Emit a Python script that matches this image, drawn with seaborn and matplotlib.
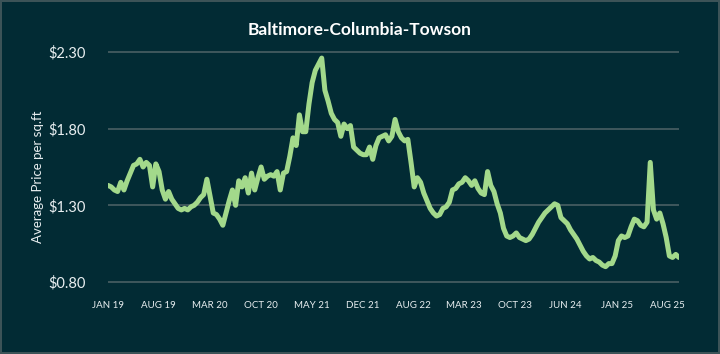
import pandas as pd
import numpy as np
import matplotlib
matplotlib.use("Agg")
import matplotlib.pyplot as plt
import seaborn as sns

# price per sq.ft (roughly evenly spaced in time)
price = [
    1.43, 1.42, 1.40, 1.39, 1.45, 1.40, 1.46, 1.51, 1.56, 1.57,
    1.60, 1.55, 1.58, 1.56, 1.42, 1.57, 1.52, 1.40, 1.34, 1.39,
    1.34, 1.31, 1.28, 1.27, 1.28, 1.27, 1.29, 1.30, 1.32, 1.35,
    1.37, 1.47, 1.36, 1.25, 1.24, 1.21, 1.17, 1.25, 1.33, 1.40,
    1.30, 1.46, 1.42, 1.48, 1.38, 1.51, 1.40, 1.48, 1.55, 1.47,
    1.49, 1.50, 1.49, 1.52, 1.40, 1.51, 1.52, 1.62, 1.74, 1.69,
    1.89, 1.78, 1.78, 1.96, 2.10, 2.18, 2.22, 2.26, 2.05, 1.98,
    1.90, 1.86, 1.84, 1.75, 1.83, 1.80, 1.82, 1.68, 1.66, 1.64,
    1.63, 1.63, 1.68, 1.60, 1.69, 1.74, 1.75, 1.76, 1.72, 1.75,
    1.86, 1.78, 1.74, 1.72, 1.73, 1.58, 1.42, 1.48, 1.45, 1.38,
    1.33, 1.28, 1.25, 1.23, 1.24, 1.28, 1.29, 1.32, 1.40, 1.41,
    1.44, 1.45, 1.48, 1.46, 1.43, 1.46, 1.41, 1.38, 1.37, 1.52,
    1.43, 1.39, 1.31, 1.25, 1.15, 1.10, 1.09, 1.10, 1.12, 1.09,
    1.08, 1.07, 1.08, 1.11, 1.15, 1.19, 1.22, 1.25, 1.27, 1.29,
    1.31, 1.30, 1.22, 1.20, 1.18, 1.14, 1.11, 1.08, 1.04, 1.00,
    0.97, 0.95, 0.96, 0.94, 0.93, 0.91, 0.90, 0.92, 0.92, 0.97,
    1.07, 1.10, 1.09, 1.10, 1.16, 1.21, 1.20, 1.17, 1.16, 1.19,
    1.58, 1.27, 1.21, 1.25, 1.18, 1.09, 0.97, 0.96, 0.98, 0.96,
]
tick_labels = ["JAN 19", "AUG 19", "MAR 20", "OCT 20", "MAY 21", "DEC 21",
               "AUG 22", "MAR 23", "OCT 23", "JUN 24", "JAN 25", "AUG 25"]
y_ticks = [0.80, 1.30, 1.80, 2.30]

bg = "#022b34"
line_color = "#a3d98b"
text_color = "#e8eef0"

dates = pd.date_range("2019-01-01", "2025-10-05", periods=len(price))
df = pd.DataFrame({"date": dates, "price": price})

sns.set_theme(style="dark", rc={"axes.facecolor": bg, "figure.facecolor": bg})
plt.rcParams["font.family"] = ["Lato", "DejaVu Sans"]

fig = plt.figure(figsize=(7.2, 3.54), dpi=100)
fig.patch.set_edgecolor("#3c5357")
fig.patch.set_linewidth(1.5)
ax = fig.add_axes([0.15, 0.1817, 0.793, 0.6932])

sns.lineplot(data=df, x="date", y="price", color=line_color, linewidth=3.6, ax=ax)

ax.set_ylim(0.75, 2.35)
ax.set_xlim(dates[0], dates[-1])
ax.set_yticks(y_ticks)
ax.set_yticklabels([f"${v:.2f}" for v in y_ticks])
for v in y_ticks:
    ax.axhline(v, color="#4f6468", linewidth=1.1, zorder=0)

tick_pos = pd.date_range("2019-01-01", "2025-08-16", periods=len(tick_labels))
ax.set_xticks(tick_pos)
ax.set_xticklabels(tick_labels)

ax.tick_params(axis="y", colors=text_color, labelsize=10.5, length=0, pad=16)
ax.tick_params(axis="x", colors=text_color, labelsize=7, length=0, pad=8)
for s in ax.spines.values():
    s.set_visible(False)
ax.grid(False)

ax.set_xlabel("")
ax.set_ylabel("Average Price per sq.ft", color=text_color, fontsize=9.5, labelpad=3)
ax.yaxis.label.set_y(0.46)
fig.text(0.5, 0.915, "Baltimore-Columbia-Towson", ha="center", va="center",
         color="white", fontsize=12.5, fontweight="bold")

fig.savefig("out.png", dpi=100, facecolor=bg, edgecolor=fig.patch.get_edgecolor())
